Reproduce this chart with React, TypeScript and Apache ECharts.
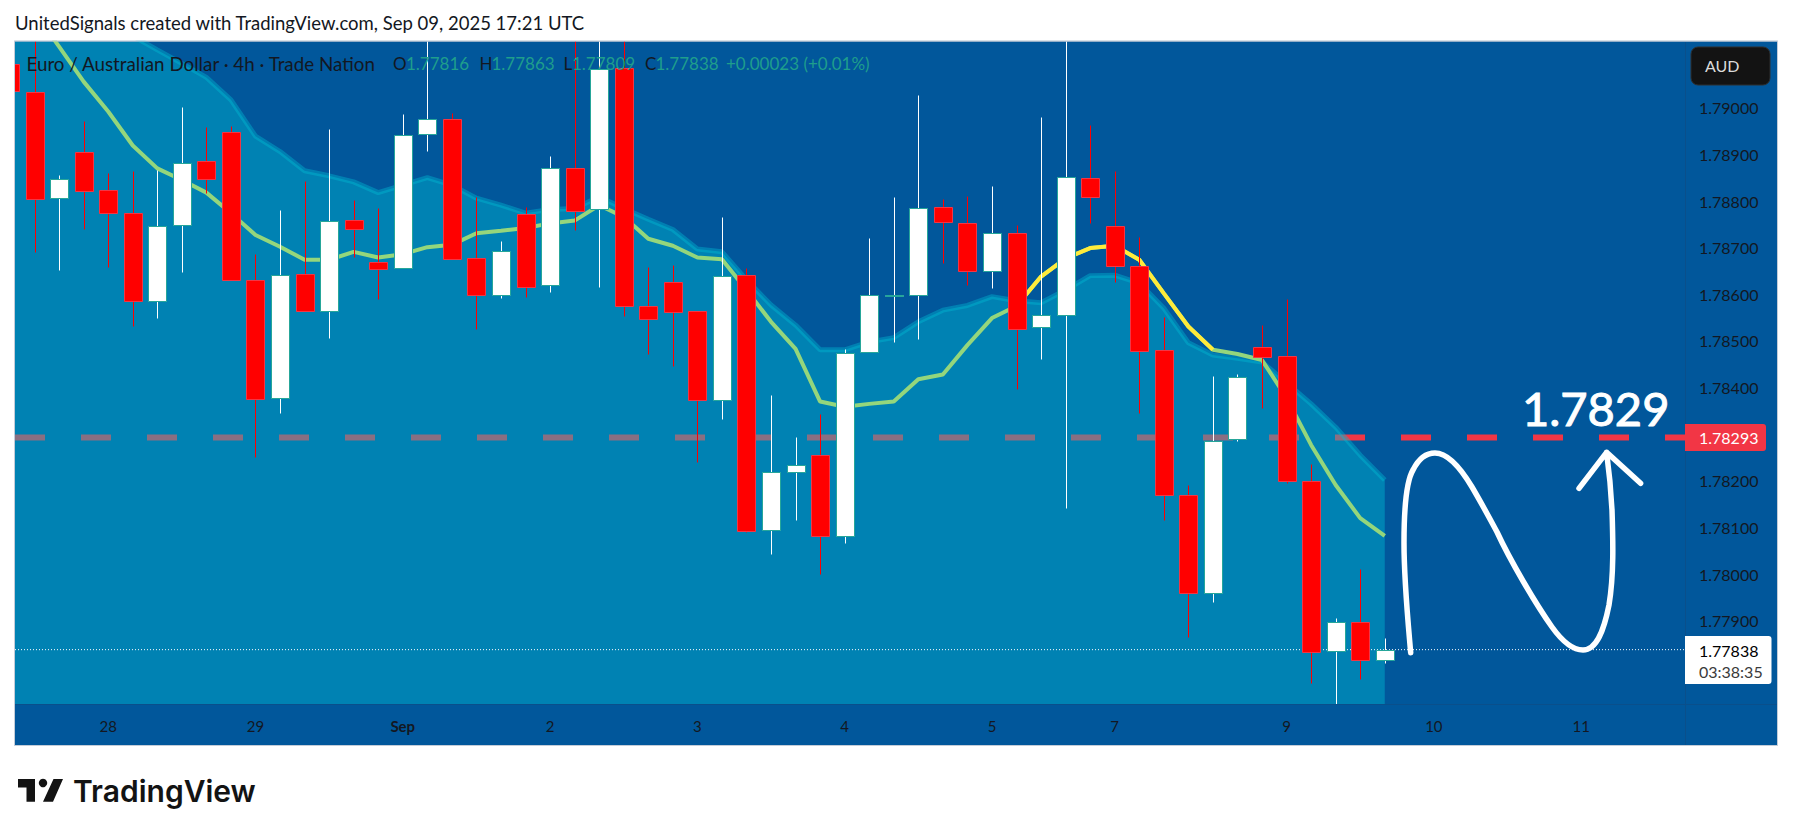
import { useEffect, useRef } from "react";
import * as echarts from "echarts";

// EURAUD 4h candles, index 0 sits just left of the visible pane
const opens = [
  1.79093, 1.79033, 1.78806, 1.78904, 1.78823, 1.78774, 1.78585, 1.78748, 1.78885, 1.78949,
  1.7863, 1.78377, 1.78643, 1.78564, 1.78759, 1.78669, 1.78656, 1.78943, 1.78975, 1.78677,
  1.78599, 1.78772, 1.78619, 1.78871, 1.78782, 1.79085, 1.78574, 1.78626, 1.78564, 1.78373,
  1.78641, 1.78094, 1.7822, 1.78255, 1.78082, 1.78476, 1.78597, 1.78598, 1.78787, 1.78752,
  1.78649, 1.78731, 1.78529, 1.78555, 1.78849, 1.78746, 1.7866, 1.7848, 1.78169, 1.7796,
  1.78289, 1.78488, 1.78467, 1.78199, 1.77835, 1.77897, 1.77816,
];
const closes = [
  1.79035, 1.78804, 1.78848, 1.78822, 1.78774, 1.78585, 1.78747, 1.78882, 1.78848, 1.7863,
  1.78375, 1.78642, 1.78564, 1.78758, 1.78741, 1.78655, 1.78942, 1.78975, 1.78676, 1.78598,
  1.78693, 1.78616, 1.78871, 1.78778, 1.79083, 1.78574, 1.78546, 1.78561, 1.78373, 1.7864,
  1.78093, 1.7822, 1.78233, 1.78082, 1.78475, 1.78598, 1.78598, 1.78784, 1.78754, 1.78649,
  1.78731, 1.78526, 1.78556, 1.78851, 1.78809, 1.78661, 1.78479, 1.7817, 1.77959, 1.78286,
  1.78423, 1.78466, 1.78199, 1.77832, 1.77897, 1.77815, 1.77838,
];
const lows = [
  1.79027, 1.78691, 1.78652, 1.78739, 1.78659, 1.78531, 1.7855, 1.78648, 1.78818, 1.7863,
  1.78252, 1.78346, 1.78564, 1.78507, 1.78679, 1.7859, 1.78656, 1.78907, 1.78676, 1.78526,
  1.78593, 1.78595, 1.78605, 1.78738, 1.78616, 1.78554, 1.78473, 1.78447, 1.78241, 1.78333,
  1.78091, 1.78043, 1.78116, 1.78001, 1.78067, 1.78476, 1.78498, 1.78504, 1.78666, 1.7862,
  1.78614, 1.78396, 1.78461, 1.78142, 1.78753, 1.78627, 1.78345, 1.78115, 1.77865, 1.77941,
  1.78286, 1.78356, 1.78196, 1.77767, 1.777, 1.77776, 1.77809,
];
const highs = [
  1.79102, 1.79167, 1.78856, 1.78972, 1.78859, 1.78864, 1.78867, 1.79002, 1.78959, 1.78961,
  1.78686, 1.78781, 1.78843, 1.78954, 1.78802, 1.78786, 1.78987, 1.79167, 1.78988, 1.78809,
  1.78714, 1.78788, 1.78897, 1.79167, 1.79167, 1.79167, 1.78659, 1.78663, 1.78564, 1.78766,
  1.78657, 1.78384, 1.78294, 1.78343, 1.78483, 1.78721, 1.78809, 1.79027, 1.78804, 1.78811,
  1.78832, 1.78748, 1.7898, 1.79167, 1.78962, 1.78864, 1.78722, 1.78551, 1.7819, 1.78425,
  1.78429, 1.78534, 1.78589, 1.78236, 1.77905, 1.7801, 1.77863,
];

// upper band (top of the filled area)
const bandUpper = [
  1.7936, 1.79317, 1.79274, 1.79231, 1.79192, 1.79154, 1.79124, 1.79095, 1.79065, 1.79017,
  1.78939, 1.78906, 1.78865, 1.78854, 1.78841, 1.78818, 1.78834, 1.7885, 1.78834, 1.78806,
  1.78791, 1.78774, 1.78782, 1.78784, 1.78809, 1.78784, 1.78761, 1.78739, 1.78697, 1.78691,
  1.78631, 1.78577, 1.78534, 1.78481, 1.78481, 1.78498, 1.78507, 1.78541, 1.78566, 1.78576,
  1.78595, 1.78586, 1.78582, 1.78609, 1.7864, 1.78641, 1.78624, 1.7857, 1.78496, 1.7847,
  1.78463, 1.78455, 1.7841, 1.78365, 1.78315, 1.78255, 1.78202,
];
// moving average line
const maLine = [
  1.79263, 1.79205, 1.79131, 1.79056, 1.78992, 1.78919, 1.7887, 1.78845, 1.78818, 1.78774,
  1.78727, 1.78702, 1.78674, 1.78674, 1.78691, 1.78679, 1.78686, 1.78701, 1.78706, 1.78731,
  1.78736, 1.78742, 1.78752, 1.78758, 1.78791, 1.78766, 1.78719, 1.78704, 1.78679, 1.78675,
  1.78609, 1.78541, 1.78483, 1.7837, 1.78359, 1.78365, 1.7837, 1.78418, 1.78428, 1.78491,
  1.78549, 1.78575, 1.78638, 1.78677, 1.78699, 1.78704, 1.78674, 1.78602, 1.78531, 1.78481,
  1.78472, 1.78459, 1.78378, 1.78277, 1.78191, 1.7812, 1.78082,
];
const maYellowFrom = 41;
const maYellowTo = 49;

const priceTicks = [1.779, 1.78, 1.781, 1.782, 1.784, 1.785, 1.786, 1.787, 1.788, 1.789, 1.79];
const dateTicks = [4, 10, 16, 22, 28, 34, 40, 45, 52, 58, 64];
const dateLabels = ["28", "29", "Sep", "2", "3", "4", "5", "7", "9", "10", "11"];

const targetPrice = 1.78293;
const lastPrice = 1.77838;

const xMin = 0.204;
const xMax = 68.23;
const yMin = 1.777215;
const yMax = 1.79142;

const FONT = "Lato, 'Noto Sans', sans-serif";
const INK = "#131722";
const TEAL = "#1f9e8c";

const SCRIBBLE =
  "M1410.7 652.7 C1407 610 1404 580 1404 543 C1404 505 1407 480 1413 470 C1419 458 1427 453 1435 453 " +
  "C1447 453 1460 467 1472 487 C1482 504 1490 519 1497 532 C1510 560 1535 603 1552 627 C1562 641 1572 650 1583 650 " +
  "C1597 650 1604 630 1609 605 C1614 575 1613 540 1612 510 C1611 490 1609 470 1606.6 452.3 " +
  "M1579 488.3 L1606.6 452.3 L1640.6 483.3";
const LOGO = "M18 779 H35 V801.7 H26.5 V787.5 H18 Z M63 779 L53 801.7 H43 L53.5 779 Z";

echarts.graphic.registerShape("scribble", echarts.graphic.extendPath(SCRIBBLE, {}));
echarts.graphic.registerShape("tvlogo", echarts.graphic.extendPath(LOGO, {}));

const label = (text: string, x: number, y: number, fill: string, fontSize: number, extra = {}) => ({
  type: "text",
  x,
  y,
  z: 20,
  silent: true,
  style: { text, fill, fontSize, fontFamily: FONT, verticalAlign: "middle", align: "left", ...extra },
});

export default function App() {
  const chartRef = useRef<HTMLDivElement>(null);

  useEffect(() => {
    if (!chartRef.current) return;
    const chart = echarts.init(chartRef.current, null, { renderer: "svg" });
    const indexed = (values: number[]) => values.map((v, i) => [i, v]);
    const candles = opens.map((o, i) => [i, o, closes[i], lows[i], highs[i]]);

    chart.setOption({
      animation: false,
      backgroundColor: "#ffffff",
      grid: { left: 15, top: 41.5, width: 1670, height: 662.5 },
      xAxis: {
        type: "value",
        min: xMin,
        max: xMax,
        splitLine: { show: false },
        axisLine: { show: false },
        axisTick: { show: false },
        axisLabel: {
          customValues: dateTicks,
          margin: 14,
          color: INK,
          fontSize: 15,
          fontFamily: FONT,
          formatter: (v: number) => {
            const text = dateLabels[dateTicks.indexOf(v)];
            return text === "Sep" ? "{b|Sep}" : text;
          },
          rich: { b: { fontWeight: "bold", fontSize: 15, fontFamily: FONT, color: INK } },
        },
      },
      yAxis: {
        type: "value",
        position: "right",
        min: yMin,
        max: yMax,
        scale: true,
        splitLine: { show: false },
        axisLine: { show: false },
        axisTick: { show: false },
        axisLabel: {
          customValues: priceTicks,
          margin: 14,
          color: INK,
          fontSize: 16,
          fontFamily: FONT,
          formatter: (v: number) => v.toFixed(5),
        },
      },
      series: [
        {
          type: "line",
          z: 1,
          symbol: "none",
          silent: true,
          data: [[xMin, targetPrice], [xMax, targetPrice]],
          lineStyle: { color: "#f23645", width: 6, type: [30, 36], cap: "butt" },
        },
        // fill and edge are separate: a line's width widens its clip past the pane
        {
          type: "line",
          z: 2,
          symbol: "none",
          silent: true,
          data: indexed(bandUpper),
          lineStyle: { width: 0 },
          areaStyle: { color: "rgba(0,188,212,0.43)", origin: "start", opacity: 1 },
        },
        {
          type: "line",
          z: 2,
          symbol: "none",
          silent: true,
          data: indexed(bandUpper),
          lineStyle: { color: "rgba(0,188,212,0.4)", width: 5 },
        },
        {
          type: "line",
          z: 3,
          symbol: "none",
          silent: true,
          data: indexed(maLine),
          lineStyle: { color: "#94d67c", width: 4 },
        },
        {
          type: "line",
          z: 3,
          symbol: "none",
          silent: true,
          data: indexed(maLine).slice(maYellowFrom, maYellowTo + 1),
          lineStyle: { color: "#ffeb3b", width: 4 },
        },
        {
          type: "line",
          z: 4,
          symbol: "none",
          silent: true,
          data: [[xMin, lastPrice], [xMax, lastPrice]],
          lineStyle: { color: "#ffffff", width: 1, type: [1, 2] },
        },
        {
          type: "custom",
          z: 5,
          clip: true,
          silent: true,
          data: candles,
          encode: { x: 0, y: [1, 2, 3, 4] },
          renderItem: (_params: any, api: any) => {
            const i = api.value(0);
            const open = api.value(1);
            const close = api.value(2);
            const up = close >= open;
            const xc = Math.round(api.coord([i, open])[0]) + 0.5;
            const yOf = (v: number) => Math.round(api.coord([i, v])[1]) + 0.5;
            const top = yOf(Math.max(open, close));
            const bottom = yOf(Math.min(open, close));
            return {
              type: "group",
              children: [
                {
                  type: "line",
                  shape: { x1: xc, x2: xc, y1: yOf(api.value(4)), y2: yOf(api.value(3)) },
                  style: { stroke: up ? "#ffffff" : "#ff0000", lineWidth: 1 },
                },
                {
                  type: "rect",
                  shape: { x: xc - 9, y: top, width: 18, height: Math.max(bottom - top, 1) },
                  style: {
                    fill: up ? "#ffffff" : "#ff0000",
                    stroke: up ? "#26a69a" : "#f23645",
                    lineWidth: 1,
                  },
                },
              ],
            };
          },
        },
      ],
      graphic: [
        {
          type: "rect",
          z: 0,
          silent: true,
          shape: { x: 14.5, y: 41, width: 1763, height: 704.5 },
          style: { fill: "#01579b", stroke: "#c3ccd8", lineWidth: 1 },
        },
        // keeps the band's edge out of the white header strip
        {
          type: "rect",
          z: 6,
          silent: true,
          shape: { x: 0, y: 0, width: 1793, height: 40.5 },
          style: { fill: "#ffffff" },
        },
        {
          type: "line",
          z: 6,
          silent: true,
          shape: { x1: 14, y1: 41, x2: 1778, y2: 41 },
          style: { stroke: "#c3ccd8", lineWidth: 1 },
        },
        {
          type: "line",
          z: 1,
          silent: true,
          shape: { x1: 1685.5, y1: 42, x2: 1685.5, y2: 745 },
          style: { stroke: "#0a4f8b", lineWidth: 1 },
        },
        {
          type: "line",
          z: 6,
          silent: true,
          shape: { x1: 15, y1: 704.5, x2: 1777, y2: 704.5 },
          style: { stroke: "#0a4f8b", lineWidth: 1 },
        },
        label("UnitedSignals created with TradingView.com, Sep 09, 2025 17:21 UTC", 15, 22.5, INK, 18.5),
        label("Euro / Australian Dollar · 4h · Trade Nation", 26.5, 63.5, INK, 18.8),
        label("O", 393, 63.5, INK, 17),
        label("1.77816", 406, 63.5, TEAL, 17),
        label("H", 479.5, 63.5, INK, 17),
        label("1.77863", 491.5, 63.5, TEAL, 17),
        label("L", 563.5, 63.5, INK, 17),
        label("1.77809", 572, 63.5, TEAL, 17),
        label("C", 645, 63.5, INK, 17),
        label("1.77838", 655.5, 63.5, TEAL, 17),
        label("+0.00023 (+0.01%)", 726, 63.5, TEAL, 17),
        {
          type: "rect",
          z: 20,
          silent: true,
          shape: { x: 1691, y: 47, width: 79, height: 38, r: 7 },
          style: { fill: "#131313", stroke: "#2e2e2e", lineWidth: 1 },
        },
        label("AUD", 1705, 65.5, "#dbdbdb", 16),
        {
          type: "rect",
          z: 20,
          silent: true,
          shape: { x: 1685, y: 424, width: 81, height: 27, r: [0, 3, 3, 0] },
          style: { fill: "#f23645" },
        },
        label("1.78293", 1699, 437.5, "#ffffff", 16),
        {
          type: "rect",
          z: 20,
          silent: true,
          shape: { x: 1685, y: 636, width: 86.5, height: 48, r: [0, 3, 3, 0] },
          style: { fill: "#ffffff" },
        },
        label("1.77838", 1699, 650, "#000000", 16),
        label("03:38:35", 1699, 671, "#3a3a3a", 16),
        label("1.7829", 1522, 408, "#ffffff", 47, { stroke: "#ffffff", lineWidth: 1 }),
        {
          type: "scribble",
          z: 20,
          silent: true,
          x: 0,
          y: 0,
          style: { fill: "none", stroke: "#ffffff", lineWidth: 5.5, lineCap: "round", lineJoin: "round" },
        },
        { type: "tvlogo", z: 20, silent: true, x: 0, y: 0, style: { fill: "#131313" } },
        {
          type: "circle",
          z: 20,
          silent: true,
          shape: { cx: 43, cy: 783, r: 4.2 },
          style: { fill: "#131313" },
        },
        label("TradingView", 73, 791, "#131313", 30, { fontFamily: "Inter, sans-serif", fontWeight: 600 }),
      ],
    });

    return () => {
      chart.dispose();
    };
  }, []);

  return (
    <div
      ref={chartRef}
      style={{ position: "absolute", left: 0, top: 0, width: 1793, height: 836 }}
    />
  );
}
